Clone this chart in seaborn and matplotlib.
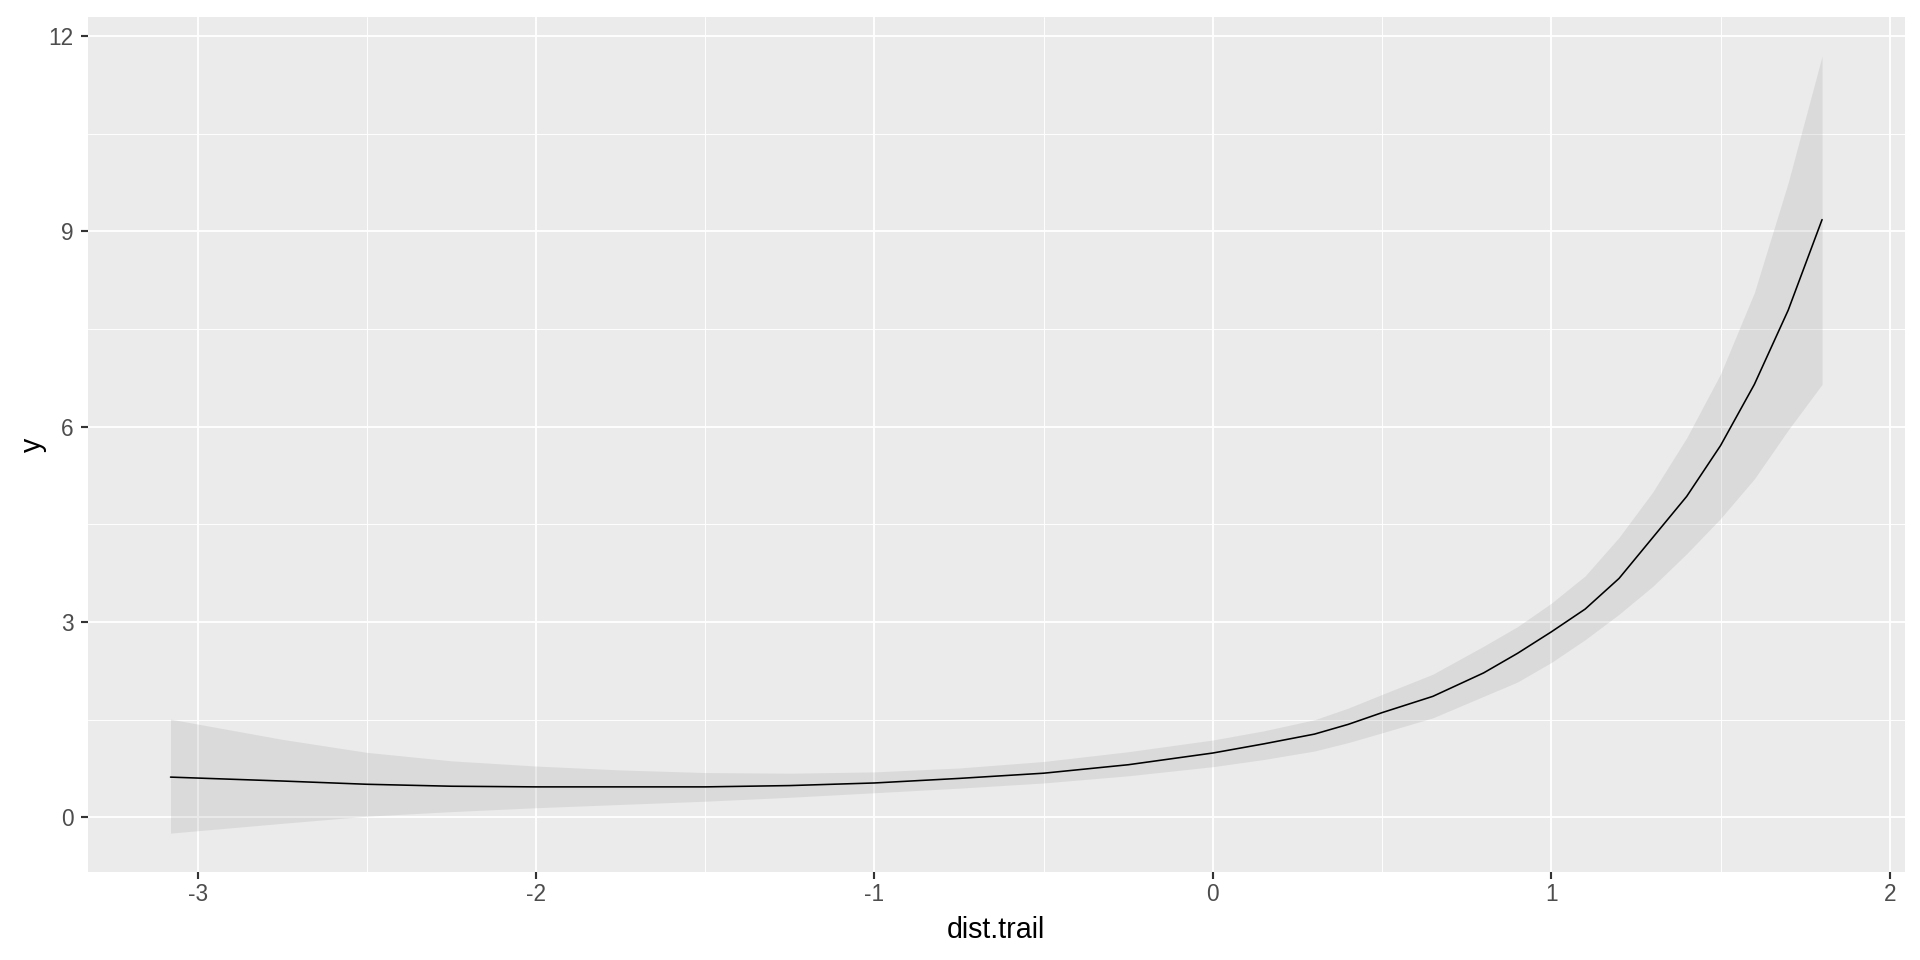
import numpy as np
import pandas as pd
import matplotlib
matplotlib.use("Agg")
import matplotlib.pyplot as plt
import seaborn as sns
from matplotlib.ticker import MultipleLocator

# ==== datos ====
dist_trail = [-3.08, -2.75, -2.5, -2.25, -2.0, -1.75, -1.5, -1.25, -1.0, -0.75,
              -0.5, -0.25, 0.0, 0.15, 0.3, 0.4, 0.5, 0.65, 0.8, 0.9,
              1.0, 1.1, 1.2, 1.3, 1.4, 1.5, 1.6, 1.7, 1.8]
fit = [0.62, 0.56, 0.51, 0.48, 0.47, 0.47, 0.47, 0.49, 0.53, 0.60,
       0.68, 0.81, 0.99, 1.13, 1.28, 1.43, 1.61, 1.86, 2.22, 2.52,
       2.85, 3.20, 3.67, 4.30, 4.93, 5.71, 6.65, 7.79, 9.18]
lower = [-0.24, -0.09, 0.02, 0.09, 0.15, 0.20, 0.25, 0.31, 0.38, 0.45,
         0.53, 0.64, 0.78, 0.89, 1.02, 1.15, 1.30, 1.53, 1.86, 2.08,
         2.38, 2.73, 3.12, 3.55, 4.05, 4.59, 5.20, 5.95, 6.65]
upper = [1.51, 1.20, 1.00, 0.87, 0.79, 0.73, 0.69, 0.68, 0.70, 0.76,
         0.86, 1.01, 1.19, 1.33, 1.50, 1.68, 1.89, 2.20, 2.63, 2.93,
         3.29, 3.71, 4.30, 5.00, 5.83, 6.81, 8.06, 9.75, 11.69]

df = pd.DataFrame({"dist.trail": dist_trail, "y": fit, "lo": lower, "hi": upper})

sns.set_theme(style="darkgrid", rc={
    "axes.facecolor": "#EBEBEB",
    "grid.color": "white",
    "axes.edgecolor": "#EBEBEB",
})
plt.rcParams["font.family"] = ["Liberation Sans", "DejaVu Sans"]

fig = plt.figure(figsize=(20, 10), dpi=96)
ax = fig.add_axes([0.0458, 0.0917, 0.992 - 0.0458, 0.982 - 0.0917])

# banda de confianza (grey60, alpha 0.2 estilo ggplot)
ax.fill_between(df["dist.trail"], df["lo"], df["hi"], color="#999999", alpha=0.2, linewidth=0, zorder=2)
sns.lineplot(data=df, x="dist.trail", y="y", color="black", linewidth=1.2, ax=ax, zorder=3)

# limites con expansion del 5%
xr = max(dist_trail) - min(dist_trail)
yr = max(upper) - min(lower)
ax.set_xlim(min(dist_trail) - 0.05 * xr, max(dist_trail) + 0.05 * xr)
ax.set_ylim(min(lower) - 0.05 * yr, max(upper) + 0.05 * yr)

ax.xaxis.set_major_locator(MultipleLocator(1))
ax.xaxis.set_minor_locator(MultipleLocator(0.5))
ax.yaxis.set_major_locator(MultipleLocator(3))
ax.yaxis.set_minor_locator(MultipleLocator(1.5))
ax.grid(which="major", color="white", linewidth=1.4)
ax.grid(which="minor", color="white", linewidth=0.7)
ax.set_axisbelow(True)
for s in ax.spines.values():
    s.set_visible(False)

ax.tick_params(axis="both", which="major", length=5.6, width=1.6, color="#333333",
               labelcolor="#4D4D4D", labelsize=17, bottom=True, left=True)
ax.tick_params(axis="y", which="major", pad=5)
ax.tick_params(axis="x", which="major", pad=2.5)
ax.tick_params(axis="both", which="minor", length=0)
ax.set_xticklabels([f"{int(t)}" for t in ax.get_xticks()])
ax.set_yticklabels([f"{int(t)}" for t in ax.get_yticks()])

ax.set_xlabel("dist.trail", fontsize=21.5, color="black", labelpad=8)
ax.set_ylabel("y", fontsize=21.5, color="black", labelpad=1)

plt.savefig("out.png", dpi=96)
plt.close()
